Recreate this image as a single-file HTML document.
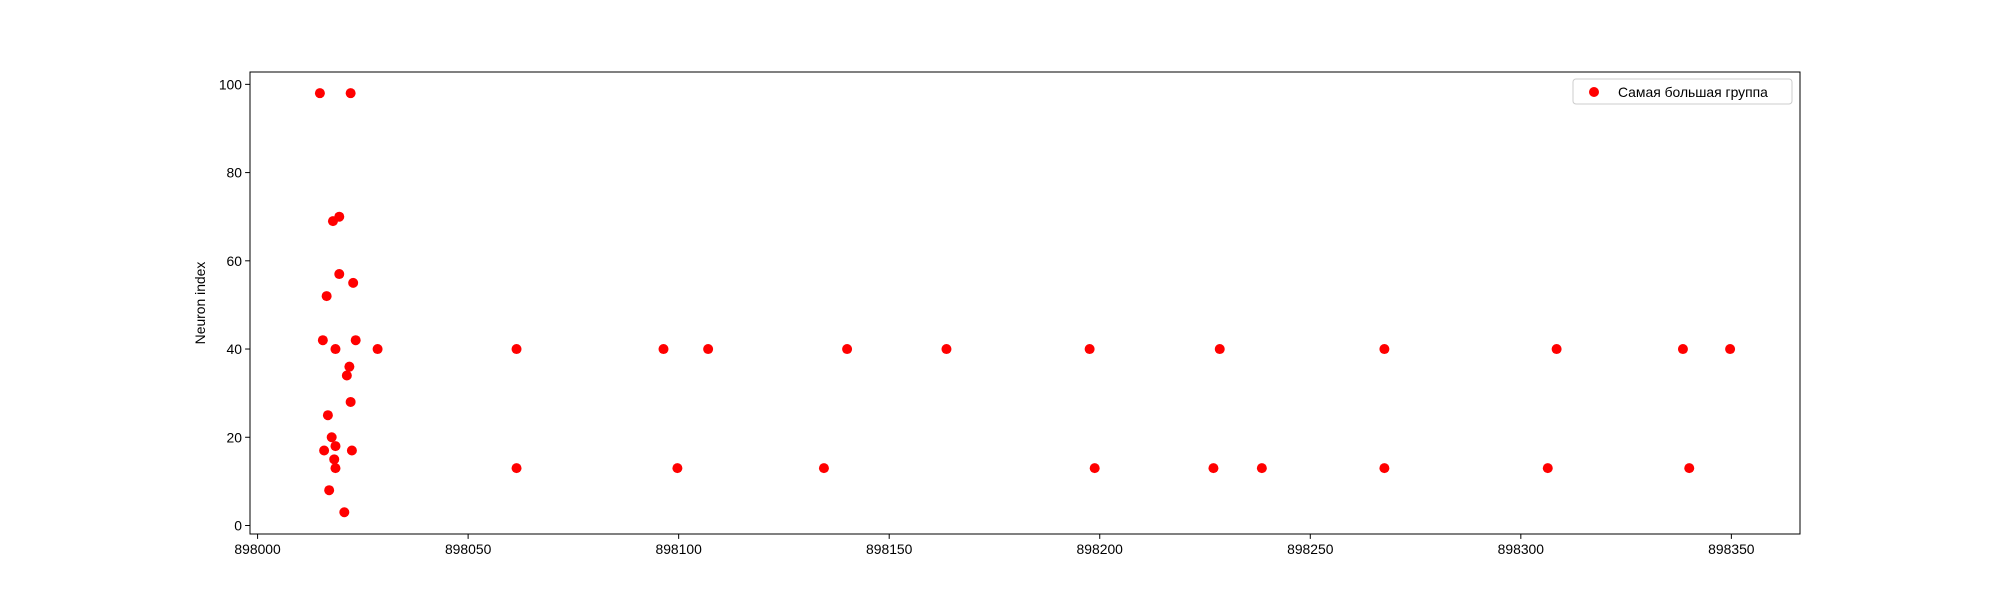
<!DOCTYPE html>
<html><head><meta charset="utf-8"><style>
body{margin:0;background:#fff;}
svg text{font-family:"Liberation Sans","DejaVu Sans",sans-serif;font-size:13.9px;fill:#000;}
</style></head><body>
<svg id="chart" width="2000" height="600" xmlns="http://www.w3.org/2000/svg">
<rect x="0" y="0" width="2000" height="600" fill="#fff"/>
<g id="marks"></g>
<g id="axes"></g>
<rect x="250" y="72" width="1550" height="462" fill="none" stroke="#000" stroke-width="1"/>
<text transform="translate(205,303) rotate(-90)" text-anchor="middle">Neuron index</text>
<g>
<rect x="1573" y="79" width="219" height="25" rx="3" fill="#fff" stroke="#ccc"/>
<circle cx="1594" cy="92" r="5" fill="#ff0000"/>
<text x="1618" y="97">Самая большая группа</text>
</g>
</svg>
<script>
const xValues=[898014.8,898022.1,898019.4,898017.9,898019.4,898022.7,898016.4,898015.5,898023.3,898018.5,898028.5,898021.8,898021.2,898022.1,898016.7,898017.6,898018.5,898015.8,898022.4,898018.2,898018.5,898017,898020.6,
898061.5,898096.4,898107,898140,898163.6,898197.6,898228.5,898267.6,898308.5,898338.5,898349.7,
898061.5,898099.7,898134.5,898198.8,898227,898238.5,898267.6,898306.4,898340];
const yValues=[98,98,70,69,57,55,52,42,42,40,40,36,34,28,25,20,18,17,17,15,13,8,3,
40,40,40,40,40,40,40,40,40,40,40,
13,13,13,13,13,13,13,13,13];
const xTicks=[898000,898050,898100,898150,898200,898250,898300,898350];
const yTicks=[0,20,40,60,80,100];
const X0=897998.2,X1=898366.3,Y0=-1.93,Y1=102.8;
const L=250,R=1800,T=72,B=534;
const sx=v=>L+(v-X0)/(X1-X0)*(R-L);
const sy=v=>B-(v-Y0)/(Y1-Y0)*(B-T);
const NS="http://www.w3.org/2000/svg";
const marks=document.getElementById('marks'),axes=document.getElementById('axes');
xValues.forEach((x,i)=>{const c=document.createElementNS(NS,'circle');
c.setAttribute('cx',sx(x));c.setAttribute('cy',sy(yValues[i]));c.setAttribute('r',5);c.setAttribute('fill','#ff0000');


marks.appendChild(c);});
xTicks.forEach(t=>{const x=sx(t);const l=document.createElementNS(NS,'line');
l.setAttribute('x1',x);l.setAttribute('x2',x);l.setAttribute('y1',B);l.setAttribute('y2',B+4.9);l.setAttribute('stroke','#000');


axes.appendChild(l);
const tx=document.createElementNS(NS,'text');tx.setAttribute('x',x);tx.setAttribute('y',B+20);tx.setAttribute('text-anchor','middle');tx.textContent=t;


axes.appendChild(tx);});
yTicks.forEach(t=>{const y=sy(t);const l=document.createElementNS(NS,'line');
l.setAttribute('x1',L-4.9);l.setAttribute('x2',L);l.setAttribute('y1',y);l.setAttribute('y2',y);l.setAttribute('stroke','#000');


axes.appendChild(l);
const tx=document.createElementNS(NS,'text');tx.setAttribute('x',L-8);tx.setAttribute('y',y+5);tx.setAttribute('text-anchor','end');tx.textContent=t;


axes.appendChild(tx);});
</script>
</body></html>
